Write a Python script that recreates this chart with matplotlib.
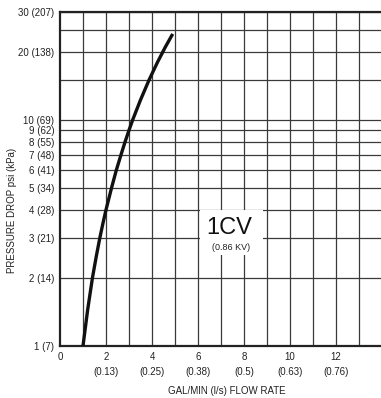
import matplotlib
matplotlib.use("Agg")
import matplotlib.pyplot as plt
from matplotlib.patches import Rectangle

plt.rcParams['font.family'] = ['Liberation Sans', 'DejaVu Sans']

# curve: flow (gal/min) vs pressure drop (psi)
flow = [1.0, 1.2, 1.41, 1.58, 1.73, 1.87, 2.0, 2.24, 2.45, 2.65, 2.83, 3.0, 3.16, 3.5, 3.87, 4.24, 4.58, 4.9]
pressure = [1.0, 1.44, 2.0, 2.5, 3.0, 3.5, 4.0, 5.0, 6.0, 7.0, 8.0, 9.0, 10.0, 12.25, 15.0, 18.0, 21.0, 24.0]

y_grid = [1, 2, 3, 4, 5, 6, 7, 8, 9, 10, 15, 20, 25, 30]
y_ticks = [1, 2, 3, 4, 5, 6, 7, 8, 9, 10, 20, 30]
y_labels = ["1 (7)", "2 (14)", "3 (21)", "4 (28)", "5 (34)", "6 (41)", "7 (48)",
            "8 (55)", "9 (62)", "10 (69)", "20 (138)", "30 (207)"]
x_ticks = [0, 2, 4, 6, 8, 10, 12]
x_labels = ["0", "2\n(0.13)", "4\n(0.25)", "6\n(0.38)", "8\n(0.5)", "10\n(0.63)", "12\n(0.76)"]

W, H = 381, 398
fig = plt.figure(figsize=(W / 100, H / 100), dpi=100)
ax = fig.add_axes([60 / W, 52 / H, 322 / W, 334 / H])
ax.set_yscale('log')
ax.set_xlim(0, 14)
ax.set_ylim(1, 30)

# grid lines
gc = '#3a3a3a'
for v in range(1, 14):
    ax.axvline(v, color=gc, lw=0.9, zorder=1)
for v in y_grid:
    ax.axhline(v, color=gc, lw=0.9, zorder=1)

ax.plot(flow, pressure, color='#111111', lw=2.4, zorder=3, solid_capstyle='butt')

ax.set_yticks(y_ticks)
ax.set_yticklabels(y_labels, fontsize=7)
ax.yaxis.set_minor_locator(matplotlib.ticker.NullLocator())
ax.set_xticks(x_ticks)
ax.set_xticklabels(x_labels, fontsize=7, linespacing=1.7)
ax.tick_params(length=0, pad=4, colors='#222222')

for s in ['left', 'bottom', 'top']:
    ax.spines[s].set_linewidth(1.6)
    ax.spines[s].set_color('#222222')
ax.spines['right'].set_visible(False)

# white label box
box = Rectangle((200 / W, 1 - 255 / H), 63 / W, 45 / H, transform=fig.transFigure,
                facecolor='white', edgecolor='none', zorder=4)
fig.patches.append(box)
fig.text(229 / W, 1 - 228 / H, "1CV", fontsize=17, ha='center', va='center', color='#111111', zorder=5)
fig.text(231 / W, 1 - 247 / H, "(0.86 KV)", fontsize=6.5, ha='center', va='center', color='#222222', zorder=5)

fig.text(12 / W, 1 - 210 / H, "PRESSURE DROP psi (kPa)", rotation=90, fontsize=7,
         ha='center', va='center', color='#222222')
fig.text(227 / W, 1 - 391 / H, "GAL/MIN (l/s) FLOW RATE", fontsize=7,
         ha='center', va='center', color='#222222')

fig.savefig("out.png", dpi=100)
